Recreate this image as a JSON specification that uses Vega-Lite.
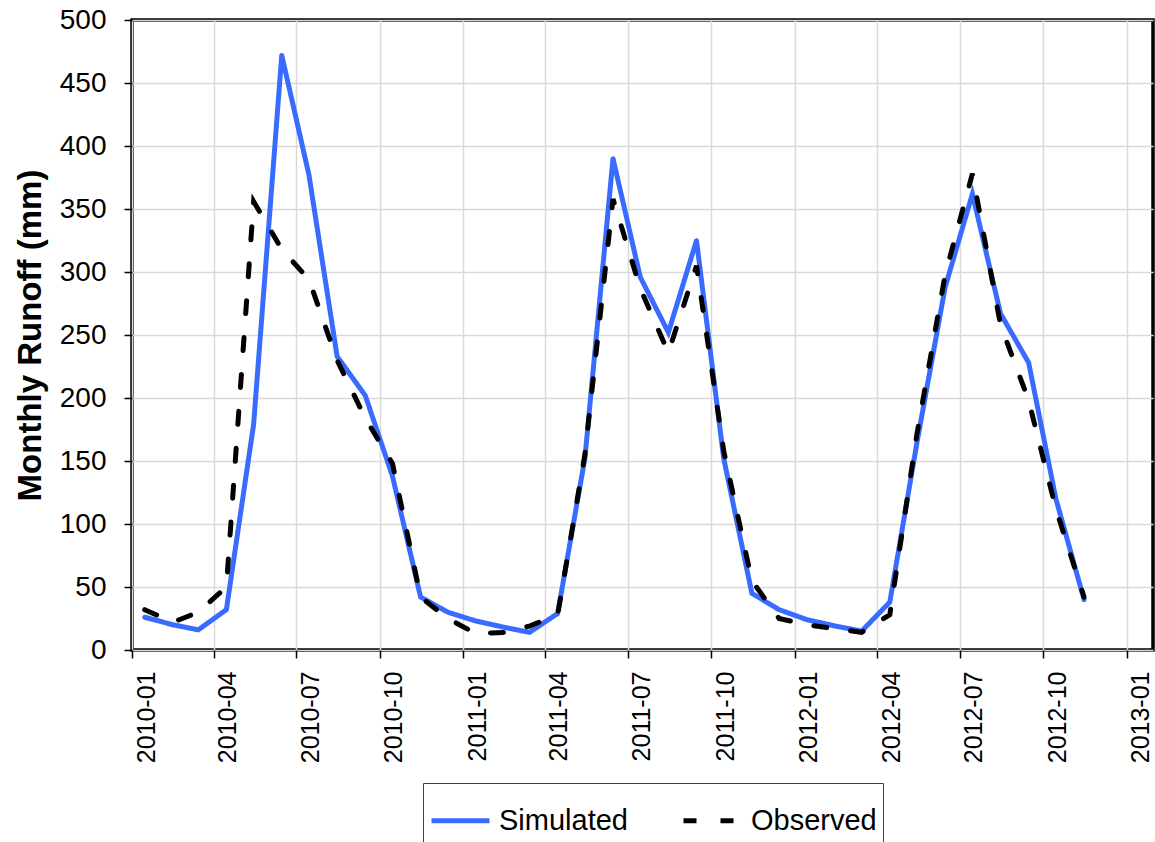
{
  "$schema": "https://vega.github.io/schema/vega-lite/v6.json",
  "width": 1021,
  "height": 630,
  "autosize": "none",
  "padding": {"left": 132, "top": 20, "right": 2, "bottom": 192},
  "background": "white",
  "data": {
    "values": [
      {"date": "2010-01-15", "series": "Simulated", "runoff": 26},
      {"date": "2010-02-15", "series": "Simulated", "runoff": 20},
      {"date": "2010-03-15", "series": "Simulated", "runoff": 16},
      {"date": "2010-04-15", "series": "Simulated", "runoff": 32},
      {"date": "2010-05-15", "series": "Simulated", "runoff": 179},
      {"date": "2010-06-15", "series": "Simulated", "runoff": 472},
      {"date": "2010-07-15", "series": "Simulated", "runoff": 377},
      {"date": "2010-08-15", "series": "Simulated", "runoff": 233},
      {"date": "2010-09-15", "series": "Simulated", "runoff": 202},
      {"date": "2010-10-15", "series": "Simulated", "runoff": 138},
      {"date": "2010-11-15", "series": "Simulated", "runoff": 42},
      {"date": "2010-12-15", "series": "Simulated", "runoff": 30},
      {"date": "2011-01-15", "series": "Simulated", "runoff": 23},
      {"date": "2011-02-15", "series": "Simulated", "runoff": 18},
      {"date": "2011-03-15", "series": "Simulated", "runoff": 14},
      {"date": "2011-04-15", "series": "Simulated", "runoff": 29},
      {"date": "2011-05-15", "series": "Simulated", "runoff": 152},
      {"date": "2011-06-15", "series": "Simulated", "runoff": 390},
      {"date": "2011-07-15", "series": "Simulated", "runoff": 296},
      {"date": "2011-08-15", "series": "Simulated", "runoff": 252},
      {"date": "2011-09-15", "series": "Simulated", "runoff": 325},
      {"date": "2011-10-15", "series": "Simulated", "runoff": 152},
      {"date": "2011-11-15", "series": "Simulated", "runoff": 45},
      {"date": "2011-12-15", "series": "Simulated", "runoff": 32},
      {"date": "2012-01-15", "series": "Simulated", "runoff": 24},
      {"date": "2012-02-15", "series": "Simulated", "runoff": 19},
      {"date": "2012-03-15", "series": "Simulated", "runoff": 15},
      {"date": "2012-04-15", "series": "Simulated", "runoff": 38},
      {"date": "2012-05-15", "series": "Simulated", "runoff": 165},
      {"date": "2012-06-15", "series": "Simulated", "runoff": 288},
      {"date": "2012-07-15", "series": "Simulated", "runoff": 362},
      {"date": "2012-08-15", "series": "Simulated", "runoff": 267},
      {"date": "2012-09-15", "series": "Simulated", "runoff": 228},
      {"date": "2012-10-15", "series": "Simulated", "runoff": 120},
      {"date": "2012-11-15", "series": "Simulated", "runoff": 40},
      {"date": "2010-01-15", "series": "Observed", "runoff": 32},
      {"date": "2010-02-15", "series": "Observed", "runoff": 22},
      {"date": "2010-03-15", "series": "Observed", "runoff": 30},
      {"date": "2010-04-15", "series": "Observed", "runoff": 50},
      {"date": "2010-05-15", "series": "Observed", "runoff": 356},
      {"date": "2010-06-15", "series": "Observed", "runoff": 318},
      {"date": "2010-07-15", "series": "Observed", "runoff": 294},
      {"date": "2010-08-15", "series": "Observed", "runoff": 230},
      {"date": "2010-09-15", "series": "Observed", "runoff": 184},
      {"date": "2010-10-15", "series": "Observed", "runoff": 148},
      {"date": "2010-11-15", "series": "Observed", "runoff": 42},
      {"date": "2010-12-15", "series": "Observed", "runoff": 25},
      {"date": "2011-01-15", "series": "Observed", "runoff": 13},
      {"date": "2011-02-15", "series": "Observed", "runoff": 14},
      {"date": "2011-03-15", "series": "Observed", "runoff": 19},
      {"date": "2011-04-15", "series": "Observed", "runoff": 28},
      {"date": "2011-05-15", "series": "Observed", "runoff": 155},
      {"date": "2011-06-15", "series": "Observed", "runoff": 358},
      {"date": "2011-07-15", "series": "Observed", "runoff": 287},
      {"date": "2011-08-15", "series": "Observed", "runoff": 236},
      {"date": "2011-09-15", "series": "Observed", "runoff": 305},
      {"date": "2011-10-15", "series": "Observed", "runoff": 158},
      {"date": "2011-11-15", "series": "Observed", "runoff": 55},
      {"date": "2011-12-15", "series": "Observed", "runoff": 25},
      {"date": "2012-01-15", "series": "Observed", "runoff": 20},
      {"date": "2012-02-15", "series": "Observed", "runoff": 17},
      {"date": "2012-03-15", "series": "Observed", "runoff": 14},
      {"date": "2012-04-15", "series": "Observed", "runoff": 28},
      {"date": "2012-05-15", "series": "Observed", "runoff": 172},
      {"date": "2012-06-15", "series": "Observed", "runoff": 298},
      {"date": "2012-07-15", "series": "Observed", "runoff": 378},
      {"date": "2012-08-15", "series": "Observed", "runoff": 258},
      {"date": "2012-09-15", "series": "Observed", "runoff": 198},
      {"date": "2012-10-15", "series": "Observed", "runoff": 112},
      {"date": "2012-11-15", "series": "Observed", "runoff": 42}
    ]
  },
  "mark": {"type": "line", "strokeWidth": 5, "strokeCap": "round", "strokeJoin": "miter"},
  "encoding": {
    "x": {
      "field": "date",
      "type": "temporal",
      "scale": {
        "type": "utc",
        "domain": [
          {"year": 2010, "month": 1, "date": 1, "utc": true},
          {"year": 2013, "month": 1, "date": 30, "utc": true}
        ]
      },
      "axis": {
        "title": null,
        "tickCount": {"interval": "month", "step": 3},
        "labelExpr": "utcFormat(datum.value, '%Y-%m')",
        "labelAngle": 270,
        "labelAlign": "right",
        "labelBaseline": "middle",
        "labelFontSize": 25,
        "labelOffset": 14,
        "labelPadding": 13,
        "tickSize": 8
      }
    },
    "y": {
      "field": "runoff",
      "type": "quantitative",
      "scale": {"domain": [0, 500], "nice": false},
      "axis": {
        "title": "Monthly Runoff (mm)",
        "values": [0, 50, 100, 150, 200, 250, 300, 350, 400, 450, 500],
        "labelFontSize": 28,
        "labelPadding": 18,
        "tickSize": 8,
        "titleFontSize": 33,
        "titleFontWeight": "bold",
        "titlePadding": 12
      }
    },
    "color": {
      "field": "series",
      "type": "nominal",
      "sort": ["Simulated", "Observed"],
      "scale": {"domain": ["Simulated", "Observed"], "range": ["#3a6bff", "#000000"]},
      "legend": {
        "title": null,
        "orient": "none",
        "legendX": 291,
        "legendY": 763,
        "direction": "horizontal",
        "columns": 2,
        "padding": 6,
        "strokeColor": "#404040",
        "labelFontSize": 29,
        "labelOffset": 7,
        "columnPadding": 45,
        "symbolSize": 3364,
        "symbolStrokeWidth": 5,
        "symbolType": "stroke"
      }
    },
    "strokeDash": {
      "field": "series",
      "type": "nominal",
      "sort": ["Simulated", "Observed"],
      "scale": {"domain": ["Simulated", "Observed"], "range": [[1, 0], [13, 24]]},
      "legend": {
        "title": null,
        "orient": "none",
        "legendX": 291,
        "legendY": 763,
        "direction": "horizontal",
        "columns": 2,
        "padding": 6,
        "strokeColor": "#404040",
        "labelFontSize": 29,
        "labelOffset": 7,
        "columnPadding": 45,
        "symbolSize": 3364,
        "symbolStrokeWidth": 5,
        "symbolType": "stroke"
      }
    }
  },
  "config": {
    "font": "Liberation Sans",
    "view": {"stroke": "#000000", "strokeWidth": 3.5},
    "axis": {
      "domain": false,
      "grid": true,
      "gridColor": "#d9d9d9",
      "gridWidth": 1.5,
      "tickColor": "#000000",
      "tickWidth": 1.5,
      "labelColor": "#000000",
      "titleColor": "#000000",
      "labelFont": "Liberation Sans",
      "titleFont": "Liberation Sans"
    },
    "legend": {"labelColor": "#000000", "labelFont": "Liberation Sans"}
  }
}
